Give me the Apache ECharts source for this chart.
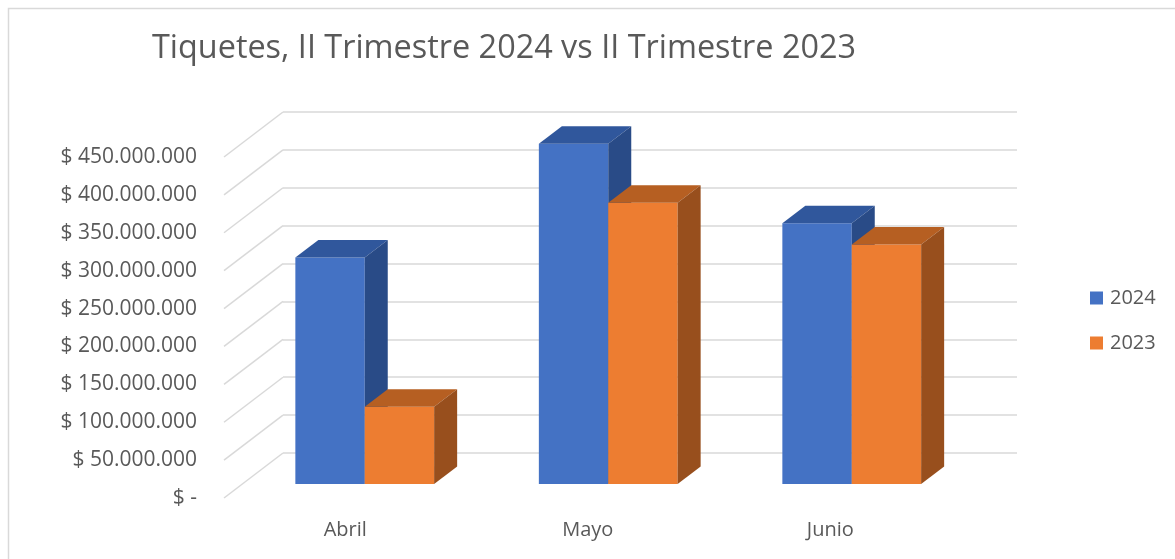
<!DOCTYPE html>
<html>
<head>
<meta charset="utf-8">
<script src="https://cdn.jsdelivr.net/npm/echarts@6/dist/echarts.min.js"></script>
<style>html,body{margin:0;padding:0;background:#fff}#c{width:1175px;height:559px}</style>
</head>
<body>
<div id="c"></div>
<script>
// ---- data ----
const categories = ['Abril', 'Mayo', 'Junio'];
const series2024 = [299000000, 449000000, 344000000];
const series2023 = [102000000, 371000000, 316000000];
const seriesNames = ['2024', '2023'];
const yTicks = [0, 50000000, 100000000, 150000000, 200000000, 250000000, 300000000, 350000000, 400000000, 450000000];
const yTickLabels = ['$ -', '$ 50.000.000', '$ 100.000.000', '$ 150.000.000', '$ 200.000.000', '$ 250.000.000', '$ 300.000.000', '$ 350.000.000', '$ 400.000.000', '$ 450.000.000'];

// ---- styling / projection ----
const FONT = 'Open Sans';
const TXT = '#595959';
const GRID_C = '#d9d9d9';
const WALL_DEPTH = [-59, 45];   // back wall -> front edge offset
const BAR_DEPTH = [23, -17.5];  // bar front -> bar back offset
const BAR_FRAC = 0.285;
const colors = {
  '2024': {front: '#4472C4', top: '#30579C', side: '#294B87'},
  '2023': {front: '#ED7D31', top: '#B65F22', side: '#984F1D'}
};
const YMAX = 450000000, YINT = 50000000;

function barRenderer(sideIdx, c) {
  return function (params, api) {
    const ci = api.value(0), v = api.value(1);
    const top = api.coord([ci, v]);
    const base = api.coord([ci, 0]);
    const band = api.size([1, 0])[0];
    const w = band * BAR_FRAC;
    const x0 = sideIdx === 0 ? top[0] - w : top[0];
    const x1 = x0 + w;
    const yT = top[1], yB = base[1];
    const dx = BAR_DEPTH[0], dy = BAR_DEPTH[1];
    return {
      type: 'group',
      children: [
        {type: 'rect', shape: {x: x0, y: yT, width: w, height: yB - yT}, style: {fill: c.front}},
        {type: 'polygon', shape: {points: [[x0, yT], [x0 + dx, yT + dy], [x1 + dx, yT + dy], [x1, yT]]}, style: {fill: c.top}},
        {type: 'polygon', shape: {points: [[x1, yT], [x1 + dx, yT + dy], [x1 + dx, yB + dy], [x1, yB]]}, style: {fill: c.side}}
      ]
    };
  };
}

const chart = echarts.init(document.getElementById('c'), null, {renderer: 'canvas'});
const option = {
  animation: false,
  backgroundColor: '#fff',
  title: {
    text: 'Tiquetes, II Trimestre 2024 vs II Trimestre 2023',
    left: 152, top: 33, padding: 0,
    textStyle: {fontFamily: FONT, fontSize: 32.4, fontWeight: 'normal', color: TXT}
  },
  legend: {
    orient: 'vertical', left: 1090, top: 288, padding: 0,
    itemWidth: 13, itemHeight: 13, itemGap: 25,
    icon: 'rect',
    data: seriesNames,
    textStyle: {fontFamily: FONT, fontSize: 20, color: TXT, padding: [0, 0, 0, 2]}
  },
  graphic: [{
    type: 'rect', left: 6, top: 6, z: -1,
    shape: {x: 0, y: 0, width: 1300, height: 700},
    style: {fill: 'none', stroke: GRID_C, lineWidth: 1.5}
  }],
  grid: [
    // back wall
    {left: 283, top: 112, width: 734, bottom: 106},
    // bar plane
    {left: 243, top: 143, width: 730.5, bottom: 75},
    // front edge (labels)
    {left: 224, top: 157, width: 727.5, bottom: 61}
  ],
  xAxis: [
    {gridIndex: 0, type: 'value', min: 0, max: 1, show: false},
    {gridIndex: 1, type: 'category', data: categories, show: false},
    {gridIndex: 2, type: 'category', data: categories,
     axisLine: {show: false}, axisTick: {show: false},
     axisLabel: {margin: 22, fontFamily: FONT, fontSize: 20, color: TXT}}
  ],
  yAxis: [
    {gridIndex: 0, type: 'value', min: 0, max: YMAX, interval: YINT,
     axisLabel: {show: false}, axisLine: {show: false}, axisTick: {show: false},
     splitLine: {show: true, lineStyle: {color: GRID_C, width: 1.5}}},
    {gridIndex: 1, type: 'value', min: 0, max: YMAX, interval: YINT, show: false},
    {gridIndex: 2, type: 'value', min: 0, max: YMAX, interval: YINT,
     axisLine: {show: false}, axisTick: {show: false}, splitLine: {show: false},
     axisLabel: {margin: 27, fontFamily: FONT, fontSize: 21, color: TXT,
       formatter: function (v) { const i = yTicks.indexOf(v); return i >= 0 ? yTickLabels[i] : ''; }}}
  ],
  series: [
    {
      type: 'custom', name: 'walls', xAxisIndex: 0, yAxisIndex: 0, silent: true,
      data: yTicks.map(v => [0, v]),
      renderItem: function (params, api) {
        const p = api.coord([0, api.value(1)]);
        return {type: 'line', shape: {x1: p[0], y1: p[1], x2: p[0] + WALL_DEPTH[0], y2: p[1] + WALL_DEPTH[1]},
          style: {stroke: GRID_C, lineWidth: 1.5}};
      },
      z: 1
    },
    {
      type: 'custom', name: seriesNames[0], xAxisIndex: 1, yAxisIndex: 1,
      itemStyle: {color: colors['2024'].front},
      data: series2024.map((v, i) => [i, v]),
      renderItem: barRenderer(0, colors['2024']), z: 2
    },
    {
      type: 'custom', name: seriesNames[1], xAxisIndex: 1, yAxisIndex: 1,
      itemStyle: {color: colors['2023'].front},
      data: series2023.map((v, i) => [i, v]),
      renderItem: barRenderer(1, colors['2023']), z: 3
    }
  ]
};
chart.setOption(option);
</script>
</body>
</html>
